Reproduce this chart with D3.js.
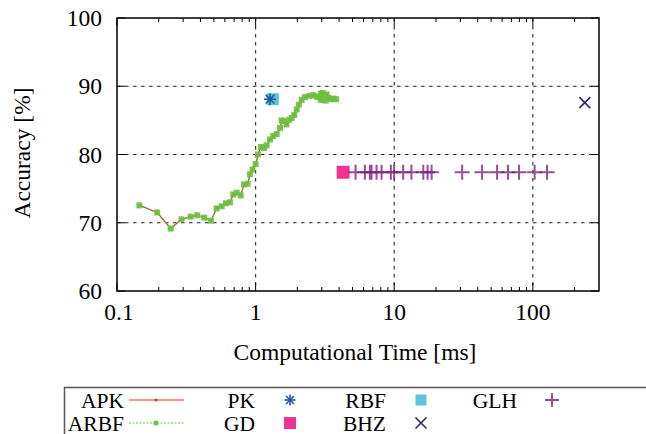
<!DOCTYPE html>
<html>
<head>
<meta charset="utf-8">
<script src="https://cdn.jsdelivr.net/npm/d3@7"></script>
<style>
  body { margin: 0; background: #fff; }
  svg { display: block; font-family: "Liberation Serif", "Times New Roman", serif; }
</style>
</head>
<body>
<svg id="chart" width="646" height="434"></svg>
<script>
// curve shared by APK and ARBF (time in ms, accuracy in %)
const curveTime = [0.145, 0.195, 0.244, 0.292, 0.34, 0.379, 0.426, 0.476, 0.523, 0.569, 0.611, 0.653,
  0.69, 0.73, 0.78, 0.824, 0.875, 0.91, 0.95, 1.0, 1.04, 1.09, 1.15, 1.2, 1.27, 1.34, 1.42, 1.5,
  1.54, 1.6, 1.67, 1.75, 1.82, 1.9, 1.98, 2.05, 2.15, 2.27, 2.44, 2.6, 2.75, 2.83, 2.95, 3.05,
  3.15, 3.25, 3.1, 2.95, 3.2, 3.35, 3.5, 3.65, 3.8];
const curveAcc = [72.55, 71.5, 69.15, 70.5, 70.9, 71.1, 70.75, 70.3, 72.1, 72.4, 72.85, 73.0,
  74.15, 74.4, 74.0, 75.6, 75.7, 77.1, 77.8, 78.6, 80.0, 81.1, 80.95, 81.35, 82.2, 82.7, 83.0, 83.9,
  85.0, 84.9, 84.4, 85.1, 85.35, 85.8, 86.6, 87.3, 88.0, 88.4, 88.6, 88.7, 88.5, 88.4, 88.9, 89.0,
  88.6, 88.8, 88.2, 88.0, 87.9, 88.3, 88.1, 88.2, 88.1];

const pkPoint = [1.27, 88.1];
const rbfPoint = [1.33, 88.1];
const gdPoint = [4.28, 77.4];
const bhzPoint = [237, 87.6];
const glhTime = [5.26, 6.14, 6.67, 6.86, 7.45, 8.1, 9.45, 9.98, 11.6, 13.3, 16.2, 17.4, 18.6,
  30.9, 43.0, 55.2, 66.2, 79.5, 103, 126.6];
const glhAcc = 77.4;

const xTicks = [0.1, 1, 10, 100];
const xTickLabels = ['0.1', '1', '10', '100'];
const yTicks = [60, 70, 80, 90, 100];

const col = {
  apk: '#e8302a',
  arbf: '#6cbf3f',
  pk: '#2456a8',
  rbf: '#5cc6d0',
  gd: '#ee3490',
  bhz: '#2c2a6a',
  glh: '#7c2282'
};

const svg = d3.select('#chart');
const pL = 117, pR = 599, pT = 18, pB = 291;
const axisFont = 23.5;

const x = d3.scaleLog().domain([0.1, 300]).range([pL, pR]);
const y = d3.scaleLinear().domain([60, 100]).range([pB, pT]);

// grid
const grid = svg.append('g')
  .attr('stroke', '#222')
  .attr('stroke-width', 1.1)
  .attr('stroke-dasharray', '3.5,4.5');
grid.selectAll('line.gx')
  .data(xTicks.filter(d => d > 0.1))
  .enter().append('line')
  .attr('x1', d => x(d)).attr('x2', d => x(d))
  .attr('y1', pT).attr('y2', pB);
grid.selectAll('line.gy')
  .data(yTicks.filter(d => d > 60 && d < 100))
  .enter().append('line')
  .attr('x1', pL).attr('x2', pR)
  .attr('y1', d => y(d)).attr('y2', d => y(d));

// ticks inside, both sides
const minor = [];
[0.1, 1, 10, 100].forEach(dec => {
  for (let k = 2; k <= 9; k++) {
    if (dec * k < 300) minor.push(dec * k);
  }
});
const ticks = svg.append('g').attr('stroke', '#000').attr('stroke-width', 1);
minor.forEach(v => {
  ticks.append('line').attr('x1', x(v)).attr('x2', x(v)).attr('y1', pB).attr('y2', pB - 4);
  ticks.append('line').attr('x1', x(v)).attr('x2', x(v)).attr('y1', pT).attr('y2', pT + 4);
});
xTicks.forEach(v => {
  ticks.append('line').attr('x1', x(v)).attr('x2', x(v)).attr('y1', pB).attr('y2', pB - 8);
  ticks.append('line').attr('x1', x(v)).attr('x2', x(v)).attr('y1', pT).attr('y2', pT + 8);
});
yTicks.forEach(v => {
  ticks.append('line').attr('x1', pL).attr('x2', pL + 8).attr('y1', y(v)).attr('y2', y(v));
  ticks.append('line').attr('x1', pR).attr('x2', pR - 8).attr('y1', y(v)).attr('y2', y(v));
});

// tick labels
svg.append('g').selectAll('text')
  .data(xTicks)
  .enter().append('text')
  .attr('x', d => x(d) + (d === 0.1 ? 2 : 0))
  .attr('y', pB + 29)
  .attr('text-anchor', 'middle')
  .attr('font-size', axisFont)
  .text((d, i) => xTickLabels[i]);
svg.append('g').selectAll('text')
  .data(yTicks)
  .enter().append('text')
  .attr('x', 102)
  .attr('y', d => y(d) + 8)
  .attr('text-anchor', 'end')
  .attr('font-size', axisFont)
  .text(d => d);

// axis titles
svg.append('text')
  .attr('x', 355).attr('y', 360)
  .attr('text-anchor', 'middle')
  .attr('font-size', axisFont)
  .text('Computational Time [ms]');
svg.append('text')
  .attr('transform', 'translate(30,153) rotate(-90)')
  .attr('text-anchor', 'middle')
  .attr('font-size', axisFont)
  .text('Accuracy [%]');

// series
const curve = curveTime.map((t, i) => [t, curveAcc[i]]);
const line = d3.line().x(d => x(d[0])).y(d => y(d[1]));

svg.append('path').datum(curve)
  .attr('fill', 'none').attr('stroke', col.apk).attr('stroke-width', 1.3)
  .attr('d', line);
svg.append('g').selectAll('circle')
  .data(curve).enter().append('circle')
  .attr('cx', d => x(d[0])).attr('cy', d => y(d[1])).attr('r', 1.3)
  .attr('fill', col.apk);

svg.append('path').datum(curve)
  .attr('fill', 'none').attr('stroke', col.arbf).attr('stroke-width', 1.3)
  .attr('stroke-dasharray', '2,1.5')
  .attr('d', line);
svg.append('g').selectAll('rect')
  .data(curve).enter().append('rect')
  .attr('x', d => x(d[0]) - 3).attr('y', d => y(d[1]) - 3)
  .attr('width', 6).attr('height', 6)
  .attr('fill', col.arbf).attr('opacity', 0.9);

function asterisk(g, cx, cy, s, color) {
  const a = g.append('g').attr('stroke', color).attr('stroke-width', 1.6);
  a.append('line').attr('x1', cx - s).attr('x2', cx + s).attr('y1', cy).attr('y2', cy);
  a.append('line').attr('x1', cx).attr('x2', cx).attr('y1', cy - s).attr('y2', cy + s);
  const d = s * 0.72;
  a.append('line').attr('x1', cx - d).attr('x2', cx + d).attr('y1', cy - d).attr('y2', cy + d);
  a.append('line').attr('x1', cx - d).attr('x2', cx + d).attr('y1', cy + d).attr('y2', cy - d);
}
function cross(g, cx, cy, s, color) {
  const a = g.append('g').attr('stroke', color).attr('stroke-width', 1.6);
  a.append('line').attr('x1', cx - s).attr('x2', cx + s).attr('y1', cy - s).attr('y2', cy + s);
  a.append('line').attr('x1', cx - s).attr('x2', cx + s).attr('y1', cy + s).attr('y2', cy - s);
}
function plus(g, cx, cy, s, color) {
  const a = g.append('g').attr('stroke', color).attr('stroke-width', 2).attr('opacity', 0.8);
  a.append('line').attr('x1', cx - s).attr('x2', cx + s).attr('y1', cy).attr('y2', cy);
  a.append('line').attr('x1', cx).attr('x2', cx).attr('y1', cy - s).attr('y2', cy + s);
}
function square(g, cx, cy, s, color) {
  g.append('rect').attr('x', cx - s / 2).attr('y', cy - s / 2)
    .attr('width', s).attr('height', s).attr('fill', color);
}

const marks = svg.append('g');
square(marks, x(rbfPoint[0]), y(rbfPoint[1]), 12, col.rbf);
asterisk(marks, x(pkPoint[0]), y(pkPoint[1]), 6, col.pk);
square(marks, x(gdPoint[0]), y(gdPoint[1]), 13, col.gd);
glhTime.forEach(t => plus(marks, x(t), y(glhAcc), 7.5, col.glh));
cross(marks, x(bhzPoint[0]), y(bhzPoint[1]), 5.5, col.bhz);

// frame
svg.append('rect')
  .attr('x', pL).attr('y', pT)
  .attr('width', pR - pL).attr('height', pB - pT)
  .attr('fill', 'none').attr('stroke', '#000').attr('stroke-width', 1.5);

// legend
const lg = svg.append('g');
lg.append('rect')
  .attr('x', 64.5).attr('y', 387.5)
  .attr('width', 600).attr('height', 60)
  .attr('fill', 'none').attr('stroke', '#555').attr('stroke-width', 1.5);

const legendItems = [
  { name: 'APK', col: 0, row: 0 },
  { name: 'ARBF', col: 0, row: 1 },
  { name: 'PK', col: 1, row: 0 },
  { name: 'GD', col: 1, row: 1 },
  { name: 'RBF', col: 2, row: 0 },
  { name: 'BHZ', col: 2, row: 1 },
  { name: 'GLH', col: 3, row: 0 }
];
legendItems.forEach(it => {
  const tx = 124 + it.col * 131;
  const cy = 400 + it.row * 23;
  lg.append('text')
    .attr('x', tx).attr('y', cy + 7.5)
    .attr('text-anchor', 'end')
    .attr('font-size', 21.5)
    .text(it.name);
  const sx = tx + 35;
  if (it.name === 'APK') {
    lg.append('line').attr('x1', tx + 5).attr('x2', tx + 60).attr('y1', cy).attr('y2', cy)
      .attr('stroke', col.apk).attr('stroke-width', 1.2);
    lg.append('circle').attr('cx', tx + 32).attr('cy', cy).attr('r', 1.5).attr('fill', col.apk);
  } else if (it.name === 'ARBF') {
    lg.append('line').attr('x1', tx + 5).attr('x2', tx + 60).attr('y1', cy).attr('y2', cy)
      .attr('stroke', col.arbf).attr('stroke-width', 1.2).attr('stroke-dasharray', '2,1.5');
    square(lg, tx + 32, cy, 4.5, col.arbf);
  } else if (it.name === 'PK') {
    asterisk(lg, sx, cy, 5.5, col.pk);
  } else if (it.name === 'GD') {
    square(lg, sx, cy, 12, col.gd);
  } else if (it.name === 'RBF') {
    square(lg, sx, cy, 11, col.rbf);
  } else if (it.name === 'BHZ') {
    cross(lg, sx, cy, 5.5, col.bhz);
  } else if (it.name === 'GLH') {
    plus(lg, sx, cy, 7, col.glh);
  }
});
</script>
</body>
</html>
